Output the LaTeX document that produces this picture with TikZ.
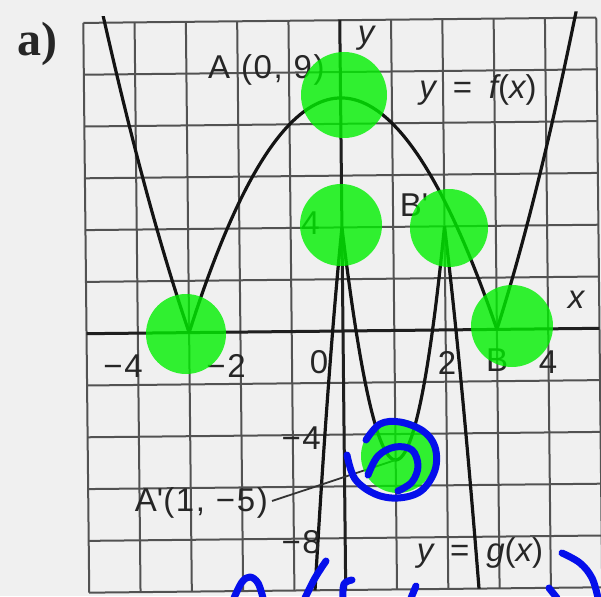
\documentclass[tikz,border=0pt]{standalone}
\usepackage{fontspec}
\setmainfont{Liberation Sans}
\newfontfamily\labfont[LetterSpace=5]{Liberation Sans}
\newfontfamily\boldserif{Liberation Serif}
\begin{document}
\begin{tikzpicture}[x=1pt,y=-1pt,
  lab/.style={text=black!85, font=\labfont\fontsize{33}{33}\selectfont, inner sep=0pt},
  gridline/.style={draw=black!68, line width=2pt},
  axisline/.style={draw=black!88, line width=3pt},
  curve/.style={draw=black!92, line width=3.2pt, line join=round},
  leader/.style={draw=black!80, line width=1.8pt},
  hl/.style={fill={rgb,255:red,0;green,240;blue,0}, fill opacity=0.8},
  ink/.style={draw={rgb,255:red,5;green,15;blue,235}, line width=7pt, line cap=round, line join=round}]
\useasboundingbox (0,0) rectangle (601,596);
\fill[gray!12] (0,0) rectangle (601,596);

% ---- grid, axes and curves (slightly rotated like the scan)
\begin{scope}[rotate around={0.6:(343,331)}]
 \begin{scope}[shift={(343,331)}, x=51.3pt, y=25.9pt]
   \foreach \i in {-5,...,5} \draw[gridline] (\i,-10) -- (\i,12);
   \foreach \j in {-10,-8,...,12} \draw[gridline] (-5,\j) -- (5,\j);
   \draw[axisline] (0,-10) -- (0,12);
   \draw[axisline] (-5,0) -- (5,0);
   \coordinate (Av) at (1,-5);
   \begin{scope}
     \clip (-5,-10) rectangle (5,12.25);
     % y = f(x) = |9 - x^2|
     \draw[curve] plot[domain=-4.75:-3, samples=40] (\x,{\x*\x-9});
     \draw[curve] plot[domain=-3:3, samples=80] (\x,{9-\x*\x});
     \draw[curve] plot[domain=3:4.75, samples=40] (\x,{\x*\x-9});
     % y = g(x) = 4 - |9 - 9(x-1)^2|
     \draw[curve] plot[domain=-0.65:0, samples=30] (\x,{13-9*(\x-1)*(\x-1)});
     \draw[curve] plot[domain=0:2, samples=80] (\x,{-5+9*(\x-1)*(\x-1)});
     \draw[curve] plot[domain=2:2.65, samples=30] (\x,{13-9*(\x-1)*(\x-1)});
   \end{scope}
 \end{scope}
\end{scope}

% ---- labels
\node[font=\boldserif\bfseries\fontsize{48}{48}\selectfont, text=black!85, inner sep=0pt] (alab) at (37,44) {a)};
\node[lab, anchor=west] (Alab) at (208,70) {A (0, 9)};
\node[lab] (ylab) at (366,38) {\itshape y};
\node[lab] (flab) at (478,90) {{\itshape y}\hspace{6pt} = \hspace{6pt}{\itshape f}({\itshape x})};
\node[lab] (Bplab) at (414,205) {B\textquotesingle};
\node[lab] (xlab) at (576,300) {\itshape x};
\node[lab] (tm4) at (123,366) {−4};
\node[lab] (tm2) at (226,366) {−2};
\node[lab] (t0) at (319,362) {0};
\node[lab] (t2) at (447,363) {2};
\node[lab] (tB) at (497,360) {B};
\node[lab] (t4) at (548,362) {4};
\node[lab, anchor=east] (ty4) at (320,223) {4};
\node[lab, anchor=east] (tym4) at (321,438) {−4};
\node[lab, anchor=east] (tym8) at (321,542) {−8};
\node[lab, anchor=east] (Aplab) at (268,503) {A\textquotesingle(1, −5)};
\node[lab] (glab) at (480,553) {{\itshape y}\hspace{6pt} = \hspace{6pt}{\itshape g}({\itshape x})};
\draw[leader] (Aplab.east) ++(4,-2) coordinate (Aplead) -- (Av);

% ---- green highlights
\fill[hl] (186,334) circle (40);
\fill[hl] (344,95) circle (43);
\fill[hl] (341,225) circle (41);
\fill[hl] (449,228) circle (39);
\fill[hl] (512,326) circle (41);
\fill[hl] (398,456) circle (37);

% ---- blue ink
\draw[ink] plot[smooth, tension=0.6] coordinates {(347,455) (355,479) (375,494) (398,498) (421,491) (435,470) (435,447) (423,431) (400,422) (380,424) (366,440)};
\draw[ink] plot[smooth, tension=0.6] coordinates {(368,475) (378,456) (395,447) (412,450) (418,466) (412,482) (398,491)};
\draw[ink] plot[smooth, tension=0.6] coordinates {(234,598) (242,582) (250,577) (258,583) (263,598)};
\draw[ink] plot[smooth, tension=0.6] coordinates {(305,598) (315,578) (326,561)};
\draw[ink] plot[smooth, tension=0.6] coordinates {(343,598) (344,584) (352,580)};
\draw[ink] (411,598) -- (416,586);
\draw[ink] plot[smooth, tension=0.6] coordinates {(562,553) (580,563) (592,578) (598,598)};
\draw[ink] (549,588) -- (557,598);
\end{tikzpicture}
\end{document}
